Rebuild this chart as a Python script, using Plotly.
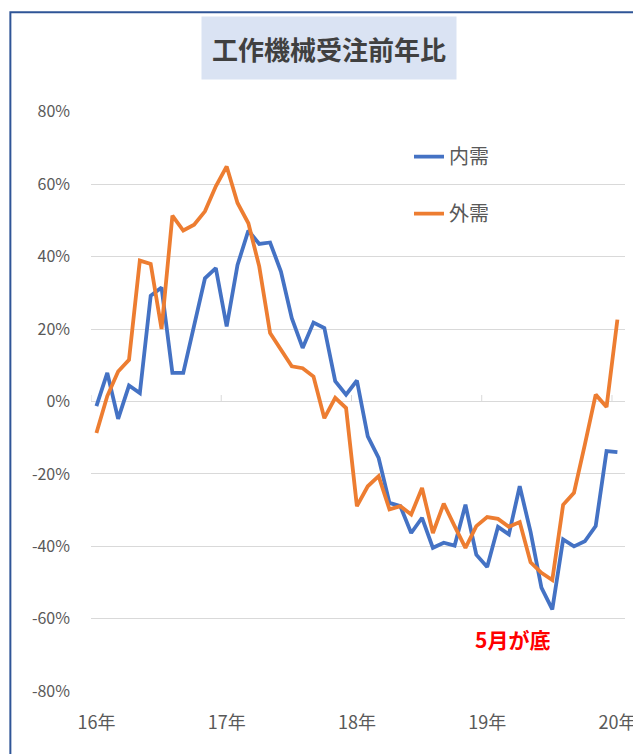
import plotly.graph_objects as go

# ---- data (monthly, Jan 2016 .. Jan 2020), YoY % ----
months = list(range(49))
year_labels = ["16年", "17年", "18年", "19年", "20年"]
year_label_pos = [0, 12, 24, 36, 48]

domestic = [-1.3, 7.9, -4.8, 4.4, 2.3, 29.2, 31.5, 7.9, 7.9, 21.2,
            34.0, 36.8, 20.7, 37.7, 47.2, 43.5, 43.9, 35.9, 23.0, 14.8,
            21.8, 20.3, 5.6, 1.9, 5.8, -9.6, -15.6, -28.0, -28.9, -36.3,
            -32.1, -40.4, -39.0, -39.8, -28.5, -42.3, -45.7, -34.6, -36.7, -23.4,
            -36.0, -51.4, -57.4, -38.1, -40.0, -38.6, -34.4, -13.7, -14.0]

foreign = [-8.7, 1.5, 8.3, 11.5, 38.9, 38.0, 20.0, 51.3, 47.2, 48.8,
           52.5, 59.4, 64.9, 54.8, 49.2, 37.3, 18.9, 14.3, 9.7, 9.2,
           6.9, -4.6, 1.0, -1.8, -28.9, -23.4, -20.6, -29.8, -28.9, -31.2,
           -23.9, -36.3, -28.2, -34.4, -40.4, -34.4, -31.9, -32.4, -34.6, -33.3,
           -44.4, -47.3, -49.3, -28.5, -25.2, -11.9, 1.9, -1.5, 22.6]

y_ticks = [-80, -60, -40, -20, 0, 20, 40, 60, 80]
y_tick_text = [f"{v}%" for v in y_ticks]

BLUE = "#4472C4"
ORANGE = "#ED7D31"
GRAY_TXT = "#595959"
GRID = "#D9D9D9"
FONT = "Noto Sans CJK JP"

fig = go.Figure()
fig.add_trace(go.Scatter(x=months, y=domestic, mode="lines", name="内需",
                         line=dict(color=BLUE, width=3.8), legendgroup="a"))
fig.add_trace(go.Scatter(x=months, y=foreign, mode="lines", name="外需",
                         line=dict(color=ORANGE, width=3.8), legendgroup="b"))

# year-boundary tick marks on the 0% axis line (between categories)
for k in range(len(year_labels)):
    xb = year_label_pos[k] - 0.5
    fig.add_shape(type="line", xref="x", yref="y", x0=xb, x1=xb, y0=0, y1=1.8,
                  line=dict(color=GRID, width=1), layer="below")

# outer border of the chart area
fig.add_shape(type="rect", xref="paper", yref="paper",
              x0=-0.151, x1=1.2, y0=-0.3, y1=1.170,
              line=dict(color="#2F5597", width=2))

# title box
fig.add_annotation(text="<b>工作機械受注前年比</b>", xref="paper", yref="paper",
                   x=0.4448, y=1.109, xanchor="center", yanchor="middle",
                   showarrow=False, width=252, height=60,
                   bgcolor="#DAE3F3", font=dict(size=26, color="#404040", family=FONT))

# annotation
fig.add_annotation(text="<b>5月が底</b>", x=38.3, y=-65.7, xref="x", yref="y",
                   showarrow=False, font=dict(size=21, color="#FF0000", family=FONT))

fig.update_layout(
    width=641, height=754,
    margin=dict(l=83, r=24, t=103, b=70),
    paper_bgcolor="white", plot_bgcolor="white",
    font=dict(family=FONT, color=GRAY_TXT, size=16),
    showlegend=True,
    legend=dict(x=0.5955, y=0.955, xanchor="left", yanchor="top",
                bgcolor="rgba(0,0,0,0)", traceorder="grouped", tracegroupgap=28,
                font=dict(size=20, color=GRAY_TXT, family=FONT), itemwidth=30),
)
fig.update_xaxes(range=[-0.5, 48.7], tickmode="array", tickvals=year_label_pos,
                 ticktext=year_labels, showgrid=False, zeroline=False, showline=False,
                 ticks="", ticklabelstandoff=18,
                 tickfont=dict(size=18, color=GRAY_TXT, family=FONT))
fig.update_yaxes(range=[-80.2, 80.2], tickmode="array", tickvals=y_ticks,
                 ticktext=y_tick_text, showgrid=True, gridcolor=GRID, gridwidth=1,
                 zeroline=True, zerolinecolor=GRID, zerolinewidth=1, showline=False,
                 ticks="", ticklabelstandoff=20,
                 tickfont=dict(size=16, color=GRAY_TXT, family=FONT))

fig.write_html("out.html")
